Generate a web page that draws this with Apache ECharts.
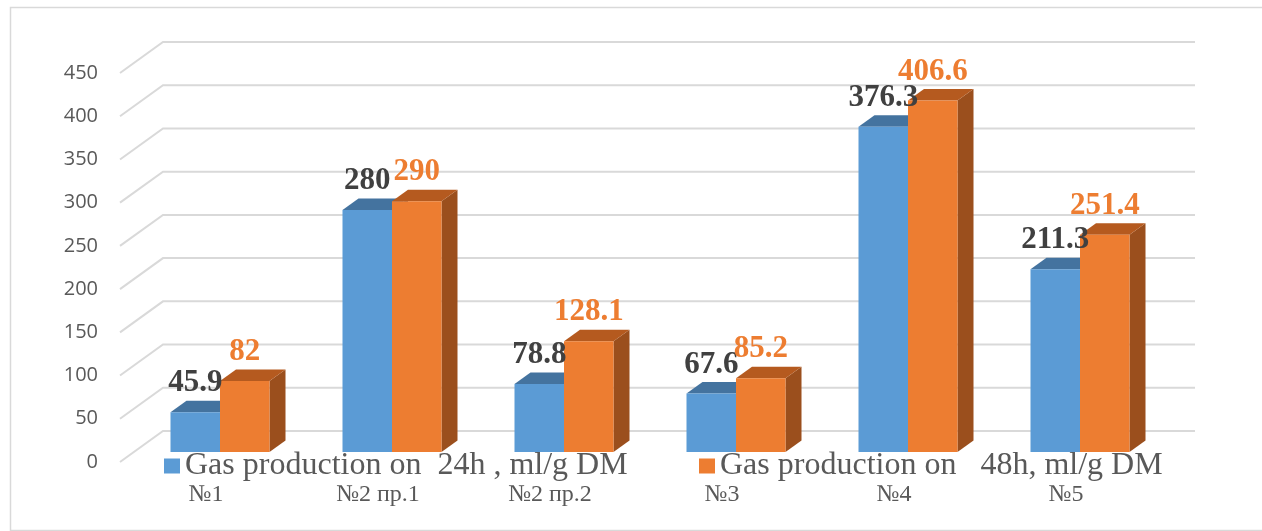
<!DOCTYPE html>
<html>
<head>
<meta charset="utf-8">
<script src="https://cdn.jsdelivr.net/npm/echarts@6/dist/echarts.min.js"></script>
<style>
html,body{margin:0;padding:0;background:#fff;}
#chart{width:1262px;height:531px;}
</style>
</head>
<body>
<div id="chart"></div>
<script>
// ---- data ----
const categories = ['№1', '№2 пр.1', '№2 пр.2', '№3', '№4', '№5'];
const seriesNames = ['Gas production on  24h , ml/g DM', 'Gas production on   48h, ml/g DM'];
const gas24h = [45.9, 280, 78.8, 67.6, 376.3, 211.3];
const gas48h = [82, 290, 128.1, 85.2, 406.6, 251.4];
const yTicks = [0, 50, 100, 150, 200, 250, 300, 350, 400, 450];

// ---- 3D look parameters (pixels) ----
const WALL_DX = 43, WALL_DY = -31;     // back wall offset from front plane
const BAR_DX = 14, BAR_DY = -10;       // bar front plane offset
const DEPTH_DX = 16, DEPTH_DY = -11.5; // bar depth
const BAR_W = 49.5;

const colors = [
  {front: '#5B9BD5', top: '#44739F', side: '#3E6A94', label: '#404040'},
  {front: '#ED7D31', top: '#B55A1F', side: '#9B4F1D', label: '#ED7D31'}
];

function barGeom(api, s) {
  const idx = api.value(0), val = api.value(1);
  const base = api.coord([idx, 0]);
  const top = api.coord([idx, val]);
  const cx = base[0] + BAR_DX;
  const x0 = s === 0 ? cx - BAR_W : cx;
  const x1 = x0 + BAR_W;
  return {x0, x1, yb: base[1] + BAR_DY, yt: top[1] + BAR_DY};
}

function barRenderer(s) {
  return function (params, api) {
    const g = barGeom(api, s);
    const c = colors[s];
    return {
      type: 'group',
      children: [
        {type: 'polygon', shape: {points: [[g.x1, g.yt], [g.x1 + DEPTH_DX, g.yt + DEPTH_DY], [g.x1 + DEPTH_DX, g.yb + DEPTH_DY], [g.x1, g.yb]]}, style: {fill: c.side}},
        {type: 'polygon', shape: {points: [[g.x0, g.yt], [g.x1, g.yt], [g.x1 + DEPTH_DX, g.yt + DEPTH_DY], [g.x0 + DEPTH_DX, g.yt + DEPTH_DY]]}, style: {fill: c.top}},
        {type: 'rect', shape: {x: g.x0, y: g.yt, width: g.x1 - g.x0, height: g.yb - g.yt}, style: {fill: c.front}}
      ]
    };
  };
}

function labelRenderer(s) {
  return function (params, api) {
    const g = barGeom(api, s);
    const val = api.value(1);
    return {
      type: 'text',
      style: {
        text: String(val),
        x: (g.x0 + g.x1) / 2,
        y: g.yt - 29,
        align: 'center',
        verticalAlign: 'middle',
        font: 'bold 31px "Liberation Serif", serif',
        fill: colors[s].label
      }
    };
  };
}

function gridRenderer(params, api) {
  const cs = params.coordSys;
  const p = api.coord([0, api.value(1)]);
  const yF = p[1];
  return {
    type: 'polyline',
    shape: {points: [[cs.x, yF], [cs.x + WALL_DX, yF + WALL_DY], [cs.x + cs.width + WALL_DX, yF + WALL_DY]]},
    style: {stroke: '#D9D9D9', lineWidth: 2, fill: null}
  };
}

const chart = echarts.init(document.getElementById('chart'));
chart.setOption({
  animation: false,
  backgroundColor: '#fff',
  graphic: [{
    type: 'rect', left: 8, top: 5,
    shape: {width: 1270, height: 523},
    style: {fill: null, stroke: '#D9D9D9', lineWidth: 1.5},
    silent: true
  }],
  legend: [
    {data: [seriesNames[0]], left: 164, top: 450, padding: 0, icon: 'rect', itemWidth: 16, itemHeight: 15,
     textStyle: {fontFamily: 'Liberation Serif', fontSize: 32, color: '#595959'}},
    {data: [seriesNames[1]], left: 699, top: 450, padding: 0, icon: 'rect', itemWidth: 16, itemHeight: 15,
     textStyle: {fontFamily: 'Liberation Serif', fontSize: 32, color: '#595959'}}
  ],
  grid: {left: 120, right: 110, top: 73, bottom: 69, containLabel: false},
  xAxis: {
    type: 'category', data: categories,
    axisLine: {show: false}, axisTick: {show: false}, splitLine: {show: false},
    axisLabel: {margin: 21, fontFamily: 'Liberation Serif', fontSize: 24, color: '#595959'}
  },
  yAxis: {
    type: 'value', min: 0, max: 450, interval: 50,
    axisLine: {show: false}, axisTick: {show: false}, splitLine: {show: false},
    axisLabel: {margin: 22, fontFamily: 'Open Sans', fontSize: 20, color: '#595959'}
  },
  series: [
    {type: 'custom', name: 'grid', silent: true, z: 1, renderItem: gridRenderer,
     data: yTicks.map(v => [0, v])},
    {type: 'custom', name: seriesNames[0], z: 2, itemStyle: {color: colors[0].front},
     renderItem: barRenderer(0), data: gas24h.map((v, i) => [i, v])},
    {type: 'custom', name: seriesNames[1], z: 3, itemStyle: {color: colors[1].front},
     renderItem: barRenderer(1), data: gas48h.map((v, i) => [i, v])},
    {type: 'custom', name: 'labels24', silent: true, z: 5, renderItem: labelRenderer(0),
     data: gas24h.map((v, i) => [i, v])},
    {type: 'custom', name: 'labels48', silent: true, z: 6, renderItem: labelRenderer(1),
     data: gas48h.map((v, i) => [i, v])}
  ]
});
</script>
</body>
</html>
